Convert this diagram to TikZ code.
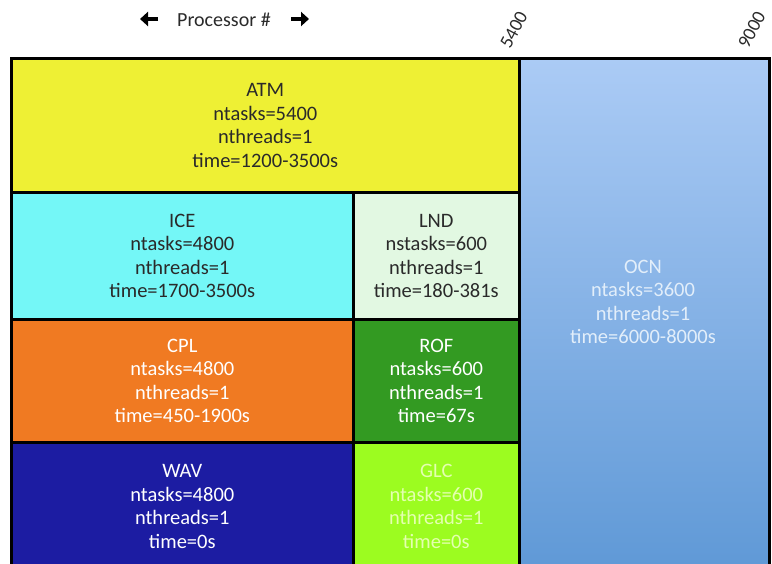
\documentclass[tikz,border=0pt]{standalone}
\usepackage{fontspec}
\setmainfont{Carlito}
\usetikzlibrary{arrows.meta}
\definecolor{atmc}{HTML}{EEF034}
\definecolor{icec}{HTML}{74F7F7}
\definecolor{lndc}{HTML}{E2F8E2}
\definecolor{cplc}{HTML}{F07A22}
\definecolor{rofc}{HTML}{339A22}
\definecolor{wavc}{HTML}{1C1CA2}
\definecolor{glcc}{HTML}{9CFC20}
\definecolor{ocntop}{HTML}{ABCBF5}
\definecolor{ocnbot}{HTML}{5E98D6}
\definecolor{darktxt}{HTML}{2A2A2A}
\definecolor{glctxt}{HTML}{E4FFB0}
\definecolor{ocntxt}{HTML}{E2EEFA}
\tikzset{
  comp/.style={draw=black, line width=2.6pt, anchor=north west, inner sep=0pt,
    align=center, font=\fontsize{20.5}{23.5}\selectfont},
  headtxt/.style={font=\fontsize{20}{22}\selectfont, text=darktxt},
  ticklbl/.style={font=\fontsize{19}{22}\selectfont, rotate=62, anchor=base west, text=darktxt, inner sep=0pt},
  bigarrow/.style={line width=4pt, -{Triangle[width=14pt,length=8pt]}},
}
\begin{document}
\begin{tikzpicture}[x=1pt,y=-1pt]
\useasboundingbox (0,0) rectangle (772,564);
\clip (0,0) rectangle (772,564);
% OCN
\node[comp, minimum width=250pt, minimum height=520pt, top color=ocntop, bottom color=ocnbot] (ocn) at (518,57) {};
\node[align=center, text=ocntxt, font=\fontsize{20.5}{23.5}\selectfont] (ocnt) at (643,302) {OCN\\ntasks=3600\\nthreads=1\\time=6000-8000s};
% ATM
\node[comp, minimum width=508pt, minimum height=134pt, fill=atmc, text=darktxt] (atm) at (10,57) {ATM\\ntasks=5400\\nthreads=1\\time=1200-3500s};
% ICE
\node[comp, minimum width=342pt, minimum height=127pt, fill=icec, text=darktxt] (ice) at (10,191) {ICE\\ntasks=4800\\nthreads=1\\time=1700-3500s};
% LND
\node[comp, minimum width=166pt, minimum height=127pt, fill=lndc, text=darktxt] (lnd) at (352,191) {LND\\nstasks=600\\nthreads=1\\time=180-381s};
% CPL
\node[comp, minimum width=342pt, minimum height=123pt, fill=cplc, text=white] (cpl) at (10,318) {CPL\\ntasks=4800\\nthreads=1\\time=450-1900s};
% ROF
\node[comp, minimum width=166pt, minimum height=123pt, fill=rofc, text=white] (rof) at (352,318) {ROF\\ntasks=600\\nthreads=1\\time=67s};
% WAV
\node[comp, minimum width=342pt, minimum height=128pt, fill=wavc, text=white] (wav) at (10,441) {WAV\\ntasks=4800\\nthreads=1\\time=0s};
% GLC
\node[comp, minimum width=166pt, minimum height=128pt, fill=glcc, text=glctxt] (glc) at (352,441) {GLC\\ntasks=600\\nthreads=1\\time=0s};
% header
\node[headtxt] (proc) at (224,20) {Processor \#};
\coordinate (la1) at (158,19);
\coordinate (la2) at (140,19);
\coordinate (ra1) at (291,19);
\coordinate (ra2) at (309,19);
\draw[bigarrow] (la1) -- (la2);
\draw[bigarrow] (ra1) -- (ra2);
\node[ticklbl] (l5400) at (510,50) {5400};
\node[ticklbl] (l9000) at (748,50) {9000};
\end{tikzpicture}
\end{document}
